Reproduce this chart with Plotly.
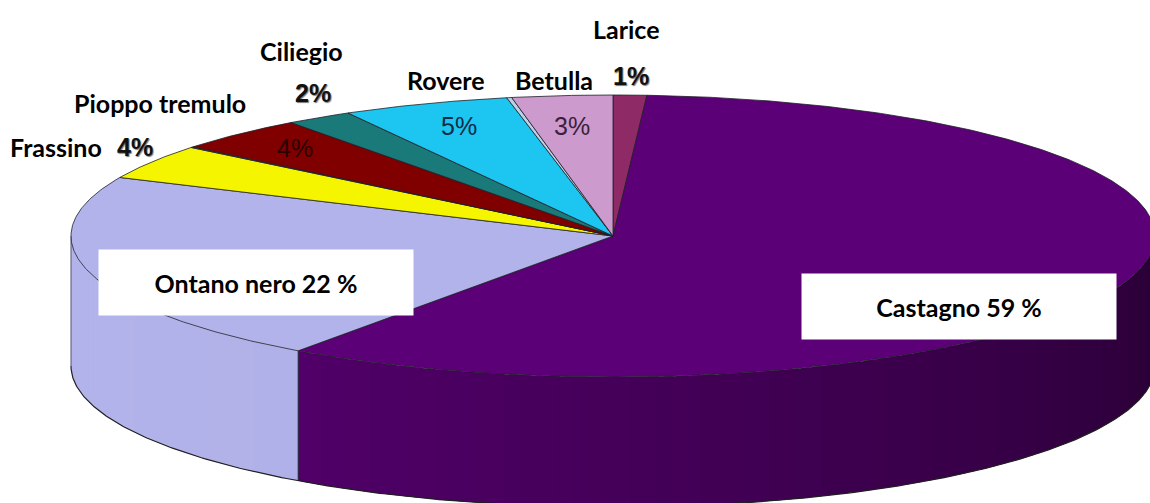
import numpy as np
import plotly.graph_objects as go

# ---------------- data ----------------
slice_labels = ["Larice", "Castagno", "Ontano nero", "Frassino", "", "Pioppo tremulo",
                "Ciliegio", "Rovere", "", "Betulla"]
slice_values = [1, 59, 22, 4, 0.08, 4, 2, 5, 0.15, 3]
slice_pct_text = ["1%", "59 %", "22 %", "4%", "", "4%", "2%", "5%", "", "3%"]

# ---------------- style ----------------
slice_colors = ["#8e2b66", "#5c0077", "#b3b3eb", "#f5f500", "#1aa5b0", "#800000",
                "#1a7a7a", "#1cc6f0", "#b8d2e6", "#cc9acc"]
side_gain = [1, 1, 0.08, 1, 1, 1, 1, 1, 1, 1]

W, H = 1150, 503
CX, CY, RX, RY, DEPTH = 613, 236, 542, 141, 130


def hex2rgb(h):
    h = h.lstrip("#")
    return [int(h[i:i + 2], 16) for i in (0, 2, 4)]


def shade(h, f):
    r, g, b = hex2rgb(h)
    if f <= 1:
        c = [int(round(v * f)) for v in (r, g, b)]
    else:
        c = [int(round(v + (255 - v) * (f - 1))) for v in (r, g, b)]
    c = [max(0, min(255, v)) for v in c]
    return "rgb(%d,%d,%d)" % tuple(c)


def rim(theta, dy=0.0):
    t = np.radians(theta)
    return CX + RX * np.sin(t), CY - RY * np.cos(t) + dy


total = float(sum(slice_values))
angles = np.concatenate([[0.0], np.cumsum(slice_values) / total * 360.0])

fig = go.Figure()

# ---- side walls (front half only), strips overlapping to avoid seams ----
for i, col in enumerate(slice_colors):
    a0, a1 = max(angles[i], 90.0), min(angles[i + 1], 270.0)
    if a1 <= a0:
        continue
    n = max(1, int(np.ceil((a1 - a0) / 1.5)))
    edges = np.linspace(a0, a1, n + 1)
    for k in range(n):
        t0 = edges[k]
        t1 = min(edges[k + 1] + 1.0, a1)
        ts = np.linspace(t0, t1, 8)
        xt, yt = rim(ts)
        xb, yb = rim(ts[::-1], DEPTH)
        xs = np.concatenate([xt, xb, xt[:1]])
        ys = np.concatenate([yt, yb, yt[:1]])
        tm = 0.5 * (edges[k] + edges[k + 1])
        f = 0.47 + 0.0035 * (tm - 100.0)
        f = min(max(f, 0.42), 1.05)
        f = 1 - side_gain[i] * (1 - f)
        c = shade(col, f)
        fig.add_trace(go.Scatter(x=xs, y=ys, mode="lines", fill="toself",
                                 fillcolor=c, line=dict(width=0),
                                 hoverinfo="skip", showlegend=False))

# side boundary verticals and outlines
for i in range(len(slice_values)):
    a = angles[i]
    if 90 < a < 270:
        x0, y0 = rim(a)
        x1, y1 = rim(a, DEPTH)
        fig.add_trace(go.Scatter(x=[x0, x1], y=[y0, y1], mode="lines",
                                 line=dict(color="#1a1a2a", width=1),
                                 hoverinfo="skip", showlegend=False))
ts = np.linspace(90, 270, 400)
xb, yb = rim(ts, DEPTH)
fig.add_trace(go.Scatter(x=xb, y=yb, mode="lines", line=dict(color="#202020", width=1.2),
                         hoverinfo="skip", showlegend=False))
x0, y0 = rim(270)
x1, y1 = rim(270, DEPTH)
fig.add_trace(go.Scatter(x=[x0, x1], y=[y0, y1], mode="lines",
                         line=dict(color="#505070", width=1),
                         hoverinfo="skip", showlegend=False))

# ---- top faces ----
for i, col in enumerate(slice_colors):
    a0, a1 = angles[i], angles[i + 1]
    n = max(3, int(np.ceil((a1 - a0) / 0.5)))
    ts = np.linspace(a0, a1, n + 1)
    xa, ya = rim(ts)
    xs = np.concatenate([[CX], xa, [CX]])
    ys = np.concatenate([[CY], ya, [CY]])
    fig.add_trace(go.Scatter(x=xs, y=ys, mode="lines", fill="toself", fillcolor=col,
                             line=dict(color="#1e1e28", width=0.8),
                             name=slice_labels[i], hoverinfo="skip", showlegend=False))

# ---- labels ----
name_font = dict(family="Lato", size=25, color="#000000", weight="bold")
pct_bold_font = dict(family="Liberation Sans", size=25, color="#111111", weight="bold",
                     shadow="1px 1px 1px #777777")
label_pos = {
    "Larice": (626, 29), "Betulla": (554, 80), "Rovere": (446, 80),
    "Ciliegio": (301, 51), "Pioppo tremulo": (160, 103), "Frassino": (56, 147),
}
pct_out_pos = {"Larice": (631, 76), "Ciliegio": (313, 93), "Frassino": (135, 147)}
pct_in = {"Betulla": ((572, 126), "#3d1f3d"), "Rovere": ((459, 126), "#0d2b4a"),
          "Pioppo tremulo": ((295, 148), "#2a0000")}

for i, lab in enumerate(slice_labels):
    if lab in label_pos:
        x, y = label_pos[lab]
        fig.add_annotation(x=x, y=y, text=lab, showarrow=False, font=name_font,
                           xanchor="center", yanchor="middle")
    if lab in pct_out_pos:
        x, y = pct_out_pos[lab]
        fig.add_annotation(x=x, y=y, text=slice_pct_text[i], showarrow=False,
                           font=pct_bold_font, xanchor="center", yanchor="middle")
    if lab in pct_in:
        (x, y), c = pct_in[lab]
        fig.add_annotation(x=x, y=y, text=slice_pct_text[i], showarrow=False,
                           font=dict(family="Liberation Sans", size=25, color=c),
                           xanchor="center", yanchor="middle")

box_pos = {"Ontano nero": (256, 282), "Castagno": (959, 306)}
for i, lab in enumerate(slice_labels):
    if lab in box_pos:
        x, y = box_pos[lab]
        fig.add_annotation(x=x, y=y, text=lab + " " + slice_pct_text[i], showarrow=False,
                           font=dict(family="Lato", size=25, color="#000000", weight="bold"),
                           bgcolor="#ffffff", width=314, height=65, borderpad=0,
                           xanchor="center", yanchor="middle", valign="middle")

fig.update_layout(
    width=W, height=H, autosize=False,
    margin=dict(l=0, r=0, t=0, b=0, pad=0),
    paper_bgcolor="#ffffff", plot_bgcolor="#ffffff",
    xaxis=dict(range=[0, W], visible=False, fixedrange=True),
    yaxis=dict(range=[H, 0], visible=False, fixedrange=True),
    showlegend=False,
)

fig.write_html("out.html", config={"displayModeBar": False},
               post_script="document.body.style.margin='0';")
